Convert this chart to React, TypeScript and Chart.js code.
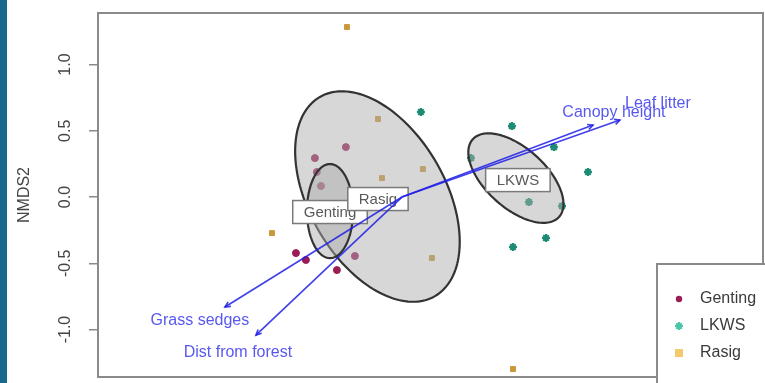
import React, { useEffect, useRef } from 'react';
import { Chart, registerables } from 'chart.js';

Chart.register(...registerables);

const FONT = '"Liberation Sans", Arial, Helvetica, sans-serif';

// ---- data (NMDS scores) ----
const GROUPS = ['Genting', 'LKWS', 'Rasig'];

const GENTING_X = [-0.423, -0.657, -0.642, -0.611, -0.8, -0.725, -0.491, -0.355];
const GENTING_Y = [0.377, 0.294, 0.189, 0.083, -0.423, -0.475, -0.551, -0.445];

const LKWS_X = [0.143, 0.83, 1.147, 0.521, 1.404, 0.958, 1.208, 1.087, 0.838];
const LKWS_Y = [0.642, 0.536, 0.377, 0.294, 0.189, -0.038, -0.068, -0.309, -0.377];

const RASIG_X = [-0.415, -0.181, -0.151, 0.158, -0.981, 0.226, 0.838];
const RASIG_Y = [1.283, 0.589, 0.143, 0.211, -0.272, -0.46, -1.298];

const X_RANGE = [-2.294, 2.725];
const Y_RANGE = [-1.358, 1.389];
const Y_TICKS = [-1.0, -0.5, 0.0, 0.5, 1.0];

// group ellipses (order of drawing)
const ELLIPSE_GROUP = ['Rasig', 'Genting', 'LKWS'];
const ELLIPSE_CX = [-0.185, -0.543, 0.86];
const ELLIPSE_CY = [0.004, -0.106, 0.143];
const ELLIPSE_A = [0.868, 0.355, 0.438];
const ELLIPSE_B = [0.513, 0.174, 0.226];
const ELLIPSE_ANGLE = [-60, 90, -42];

// group labels (boxes)
const LABEL_TEXT = ['Genting', 'Rasig', 'LKWS'];
const LABEL_X = [-0.543, -0.181, 0.875];
const LABEL_Y = [-0.113, -0.015, 0.128];

// environmental vectors
const VEC_NAMES = ['Grass sedges', 'Dist from forest', 'Canopy height', 'Leaf litter'];
const VEC_X = [-1.336, -1.102, 1.442, 1.645];
const VEC_Y = [-0.83, -1.042, 0.543, 0.581];
const VEC_LABEL_X = [-1.525, -1.238, 1.6, 1.932];
const VEC_LABEL_Y = [-0.936, -1.177, 0.634, 0.702];

const POINT_COLORS = ['#9a1d55', '#1e8c74', '#c9983a'];
const LEGEND_COLORS = ['#9a1d55', '#4cc4aa', '#f2ca6a'];
const POINT_STYLES = ['circle', 'star', 'rect'];

const toPts = (xs: number[], ys: number[]) => xs.map((v, i) => ({ x: v, y: ys[i] }));

const overlayPlugin = {
  id: 'overlay',
  afterDatasetsDraw(chart: any) {
    const { ctx, chartArea, scales } = chart;
    const xs = scales.x;
    const ys = scales.y;
    const px = (v: number) => xs.getPixelForValue(v);
    const py = (v: number) => ys.getPixelForValue(v);

    ctx.save();
    ctx.beginPath();
    ctx.rect(chartArea.left, chartArea.top, chartArea.width, chartArea.height);
    ctx.clip();

    // ellipses
    ELLIPSE_CX.forEach((cx, i) => {
      const phi = (ELLIPSE_ANGLE[i] * Math.PI) / 180;
      const a = ELLIPSE_A[i];
      const b = ELLIPSE_B[i];
      const cy = ELLIPSE_CY[i];
      ctx.beginPath();
      const n = 160;
      for (let k = 0; k <= n; k++) {
        const t = (k / n) * Math.PI * 2;
        const dx = a * Math.cos(t) * Math.cos(phi) - b * Math.sin(t) * Math.sin(phi);
        const dy = a * Math.cos(t) * Math.sin(phi) + b * Math.sin(t) * Math.cos(phi);
        const X = px(cx + dx);
        const Y = py(cy + dy);
        if (k === 0) ctx.moveTo(X, Y);
        else ctx.lineTo(X, Y);
      }
      ctx.closePath();
      ctx.fillStyle = 'rgba(172,172,172,0.48)';
      ctx.fill();
      ctx.strokeStyle = '#333333';
      ctx.lineWidth = 2.2;
      ctx.stroke();
    });

    // group label boxes
    ctx.font = `15px ${FONT}`;
    ctx.textAlign = 'center';
    ctx.textBaseline = 'middle';
    LABEL_TEXT.forEach((t, i) => {
      const X = px(LABEL_X[i]);
      const Y = py(LABEL_Y[i]);
      const w = ctx.measureText(t).width + 22;
      const h = 23;
      ctx.fillStyle = '#ffffff';
      ctx.fillRect(X - w / 2, Y - h / 2, w, h);
      ctx.strokeStyle = '#7a7a7a';
      ctx.lineWidth = 1.5;
      ctx.strokeRect(X - w / 2, Y - h / 2, w, h);
      ctx.fillStyle = '#5a5a5a';
      ctx.fillText(t, X, Y + 1);
    });

    // vectors
    const ox = px(0);
    const oy = py(0);
    VEC_X.forEach((vx, i) => {
      const X = px(vx);
      const Y = py(VEC_Y[i]);
      ctx.strokeStyle = 'rgba(30,30,230,0.85)';
      ctx.lineWidth = 1.6;
      ctx.beginPath();
      ctx.moveTo(ox, oy);
      ctx.lineTo(X, Y);
      ctx.stroke();
      const ang = Math.atan2(Y - oy, X - ox);
      const hl = 6;
      ctx.beginPath();
      ctx.moveTo(X - hl * Math.cos(ang - 0.45), Y - hl * Math.sin(ang - 0.45));
      ctx.lineTo(X, Y);
      ctx.lineTo(X - hl * Math.cos(ang + 0.45), Y - hl * Math.sin(ang + 0.45));
      ctx.stroke();
    });

    ctx.font = `16px ${FONT}`;
    ctx.fillStyle = 'rgba(70,70,240,0.9)';
    VEC_NAMES.forEach((name, i) => {
      ctx.fillText(name, px(VEC_LABEL_X[i]), py(VEC_LABEL_Y[i]));
    });
    ctx.restore();

    // plot frame
    ctx.save();
    ctx.strokeStyle = '#8a8a8a';
    ctx.lineWidth = 2;
    ctx.strokeRect(chartArea.left, chartArea.top, chartArea.width, chartArea.height);

    // legend box (bottom right)
    const lx = chartArea.right - 106;
    const ly = chartArea.top + 251;
    ctx.fillStyle = '#ffffff';
    ctx.fillRect(lx, ly, 200, 200);
    ctx.strokeStyle = '#8a8a8a';
    ctx.lineWidth = 2;
    ctx.strokeRect(lx, ly, 200, 200);
    ctx.font = `16px ${FONT}`;
    ctx.textAlign = 'left';
    ctx.textBaseline = 'middle';
    GROUPS.forEach((g, i) => {
      const yy = ly + 35 + i * 27;
      const mx = lx + 22;
      ctx.fillStyle = LEGEND_COLORS[i];
      ctx.strokeStyle = LEGEND_COLORS[i];
      if (POINT_STYLES[i] === 'circle') {
        ctx.beginPath();
        ctx.arc(mx, yy, 3.2, 0, Math.PI * 2);
        ctx.fill();
      } else if (POINT_STYLES[i] === 'star') {
        ctx.lineWidth = 2;
        ctx.beginPath();
        for (let k = 0; k < 4; k++) {
          const a = (k * Math.PI) / 4;
          ctx.moveTo(mx - 4 * Math.cos(a), yy - 4 * Math.sin(a));
          ctx.lineTo(mx + 4 * Math.cos(a), yy + 4 * Math.sin(a));
        }
        ctx.stroke();
      } else {
        ctx.fillRect(mx - 4, yy - 4, 8, 8);
      }
      ctx.fillStyle = '#3a3a3a';
      ctx.fillText(g, lx + 43, yy);
    });
    ctx.restore();
  },
};

export default function App() {
  const canvasRef = useRef<HTMLCanvasElement | null>(null);

  useEffect(() => {
    document.body.style.margin = '0';
    const canvas = canvasRef.current;
    if (!canvas) return;
    const seriesX = [GENTING_X, LKWS_X, RASIG_X];
    const seriesY = [GENTING_Y, LKWS_Y, RASIG_Y];
    const chart = new Chart(canvas, {
      type: 'scatter',
      data: {
        datasets: GROUPS.map((g, i) => ({
          label: g,
          data: toPts(seriesX[i], seriesY[i]),
          pointStyle: POINT_STYLES[i] as any,
          pointRadius: POINT_STYLES[i] === 'star' ? 4 : 3.5,
          pointBackgroundColor: POINT_COLORS[i],
          pointBorderColor: POINT_COLORS[i],
          pointBorderWidth: POINT_STYLES[i] === 'star' ? 2.2 : 1,
        })),
      },
      options: {
        animation: false,
        responsive: true,
        maintainAspectRatio: false,
        layout: { autoPadding: false, padding: { left: 0, top: 13, right: 2, bottom: 6 } },
        plugins: {
          legend: { display: false },
          tooltip: { enabled: false },
        },
        scales: {
          x: {
            type: 'linear',
            display: false,
            min: X_RANGE[0],
            max: X_RANGE[1],
          },
          y: {
            type: 'linear',
            min: Y_RANGE[0],
            max: Y_RANGE[1],
            afterBuildTicks: (s: any) => {
              s.ticks = Y_TICKS.map((v) => ({ value: v }));
            },
            afterFit: (s: any) => {
              s.width = 98;
              s.paddingTop = 0;
              s.paddingBottom = 0;
              s.paddingLeft = 0;
              s.paddingRight = 0;
            },
            grid: {
              drawOnChartArea: false,
              drawTicks: true,
              tickLength: 9,
              color: '#8a8a8a',
              lineWidth: 1.5,
            },
            border: { display: false },
            ticks: {
              minRotation: 90,
              maxRotation: 90,
              crossAlign: 'center',
              padding: 10,
              color: '#444444',
              font: { size: 16, family: FONT },
              callback: (v: any) => Number(v).toFixed(1),
            },
            title: {
              display: true,
              text: 'NMDS2',
              color: '#444444',
              font: { size: 16, family: FONT },
              padding: { top: 15, bottom: 0 },
            },
          },
        },
      },
      plugins: [overlayPlugin],
    });
    return () => chart.destroy();
  }, []);

  return (
    <div style={{ position: 'relative', width: 765, height: 383, background: '#ffffff' }}>
      <canvas ref={canvasRef} />
      <div
        style={{
          position: 'absolute',
          left: 0,
          top: 0,
          width: 7,
          height: 383,
          background: '#176a8e',
        }}
      />
    </div>
  );
}
